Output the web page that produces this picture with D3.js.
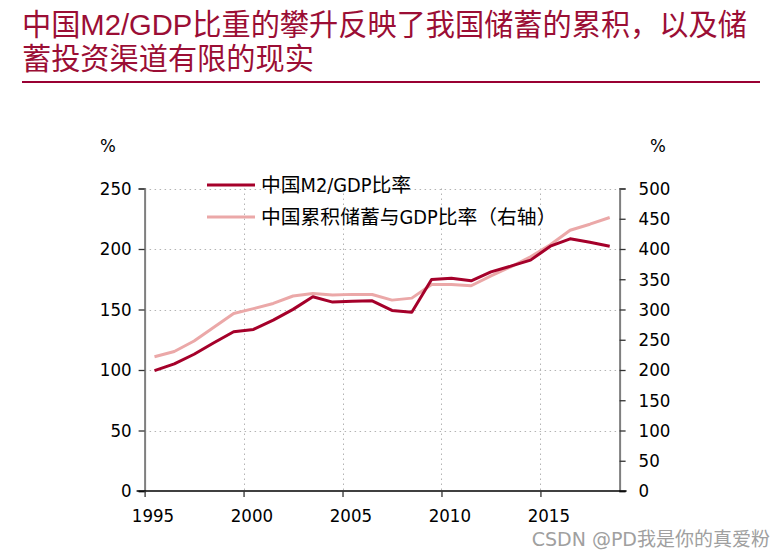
<!DOCTYPE html>
<html><head><meta charset="utf-8">
<script src="https://cdn.jsdelivr.net/npm/d3@7"></script>
<style>
html,body{margin:0;padding:0;background:#fff;}
svg{display:block;}
</style></head>
<body>
<svg id="chart" width="783" height="558"></svg>
<script>
const titleLines = ["中国M2/GDP比重的攀升反映了我国储蓄的累积，以及储", "蓄投资渠道有限的现实"];
const years = [1995,1996,1997,1998,1999,2000,2001,2002,2003,2004,2005,2006,2007,2008,2009,2010,2011,2012,2013,2014,2015,2016,2017,2018];
const m2gdp = [99.5,105,113,122.5,131.6,133.5,141.2,150.1,160.5,156.1,156.9,157.2,149.2,147.8,174.8,175.9,173.7,181.1,185.8,190.8,202.3,208.4,205.6,202.3];
const savingsGdp = [221.8,230.5,248,270.5,293.5,301.5,310,322.3,326.5,323.8,325,324.9,315.5,318.8,341.4,341.4,339.2,355.7,370.6,387,407,431,441,452];
const seriesNames = ["中国M2/GDP比率", "中国累积储蓄与GDP比率（右轴）"];
const xTickYears = [1995,2000,2005,2010,2015];
const leftTicks = [0,50,100,150,200,250];
const rightTicks = [0,50,100,150,200,250,300,350,400,450,500];
const watermark = "CSDN @PD我是你的真爱粉";

const svg = d3.select("#chart");
const titleColor = "#9b0e35";
const redC = "#a5002a";
const pinkC = "#eba8a8";
const axisFont = "'DejaVu Sans Condensed','DejaVu Sans','Noto Sans CJK SC',sans-serif";
const cjkFont = "'Noto Sans CJK SC',sans-serif";

// title
svg.append("g").selectAll("text").data(titleLines).join("text")
  .attr("x", 22).attr("y", (d,i)=>35 + i*34)
  .attr("fill", titleColor)
  .style("font-family", "'Liberation Sans','Noto Sans CJK SC',sans-serif")
  .style("font-size", "29.2px")
  .text(d=>d);
svg.append("line").attr("x1",22).attr("x2",760).attr("y1",82).attr("y2",82)
  .attr("stroke","#990033").attr("stroke-width",2.2);

const L = 144.6, R = 619.6, T = 188.5, B = 491;
const x = d3.scaleLinear().domain([1995, 2019]).range([L, R]);
const yL = d3.scaleLinear().domain([0, 250]).range([B, T]);
const yR = d3.scaleLinear().domain([0, 500]).range([B, T]);

// grid
const grid = svg.append("g").attr("stroke","#b4b4b4").attr("stroke-width",1).attr("stroke-dasharray","1.5,3.5");
grid.selectAll("line.h").data(leftTicks.filter(d=>d>0)).join("line")
  .attr("x1",L).attr("x2",R).attr("y1",d=>Math.round(yL(d))+0.5).attr("y2",d=>Math.round(yL(d))+0.5);
grid.selectAll("line.v").data(xTickYears.filter(d=>d>1995)).join("line")
  .attr("x1",d=>Math.round(x(d))+0.5).attr("x2",d=>Math.round(x(d))+0.5).attr("y1",T).attr("y2",B);

// axes
const leftAxis = d3.axisLeft(yL).tickValues(leftTicks).tickSize(6).tickPadding(7);
const gL = svg.append("g").attr("transform",`translate(${L},0)`).call(leftAxis);
const rightAxis = d3.axisRight(yR).tickValues(rightTicks).tickSize(6).tickPadding(13);
const gR = svg.append("g").attr("transform",`translate(${R},0)`).call(rightAxis);
[gL,gR].forEach(g=>{
  g.select(".domain").attr("stroke","#7f7f7f").attr("stroke-width",2);
  g.selectAll(".tick line").attr("stroke","#333").attr("stroke-width",1.3);
  g.selectAll(".tick text").attr("fill","#000").style("font-family",axisFont).style("font-size","18.5px");
});

const bottomAxis = d3.axisBottom(x).tickValues(xTickYears).tickSize(6).tickSizeOuter(0).tickPadding(12).tickFormat(d3.format("d"));
const gB = svg.append("g").attr("transform",`translate(0,${B})`).call(bottomAxis);
gB.select(".domain").attr("stroke","#000").attr("stroke-width",1.5).attr("d",`M${L-8},0H${R+7}`);
gB.selectAll(".tick line").attr("stroke","#333").attr("stroke-width",1.3);
gB.selectAll(".tick text").attr("fill","#000").attr("dx", x(1995.5)-x(1995) - 2)
  .style("font-family",axisFont).style("font-size","18.5px");

// percent labels
svg.append("text").attr("x",108).attr("y",152).attr("text-anchor","middle")
  .style("font-family",axisFont).style("font-size","18.5px").text("%");
svg.append("text").attr("x",658).attr("y",152).attr("text-anchor","middle")
  .style("font-family",axisFont).style("font-size","18.5px").text("%");

// lines
const cx = yr => x(yr + 0.5);
const lineL = d3.line().x((d,i)=>cx(years[i])).y(d=>yL(d));
const lineR = d3.line().x((d,i)=>cx(years[i])).y(d=>yR(d));
svg.append("path").datum(savingsGdp).attr("d",lineR).attr("fill","none")
  .attr("stroke",pinkC).attr("stroke-width",3).attr("stroke-linejoin","round");
svg.append("path").datum(m2gdp).attr("d",lineL).attr("fill","none")
  .attr("stroke",redC).attr("stroke-width",3).attr("stroke-linejoin","round");

// legend
const leg = svg.append("g");
const legY = [185, 217];
const legC = [redC, pinkC];
seriesNames.forEach((n,i)=>{
  leg.append("line").attr("x1",207).attr("x2",255).attr("y1",legY[i]).attr("y2",legY[i])
    .attr("stroke",legC[i]).attr("stroke-width",3);
  const t = leg.append("text").attr("x",261).attr("y",legY[i]).attr("dy","0.35em")
    .style("font-family",axisFont).style("font-size","19.8px").attr("fill","#000");
  // split so that full-width punctuation uses the CJK font
  n.split(/([（）])/).filter(s=>s.length).forEach(s=>{
    const sp = t.append("tspan").text(s);
    if (s === "（" || s === "）") sp.style("font-family", cjkFont);
  });
});

// watermark
svg.append("text").attr("x",770).attr("y",546).attr("text-anchor","end")
  .attr("fill","#a0a0a0").style("font-family","'DejaVu Sans','Noto Sans CJK SC',sans-serif")
  .style("font-size","19px").text(watermark);
</script>
</body></html>
